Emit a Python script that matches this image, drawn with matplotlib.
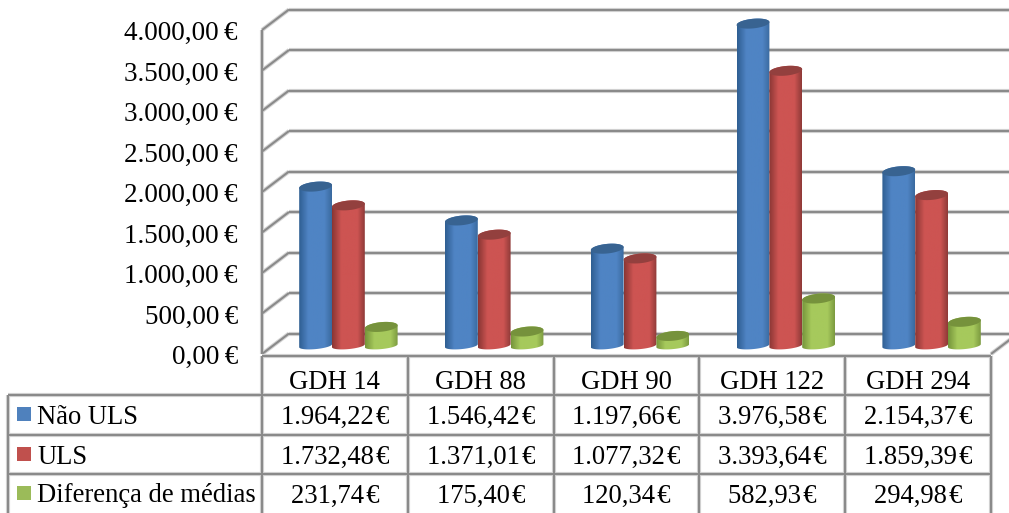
"""Average cost per GDH, Não ULS vs ULS, as a 3D-style cylinder chart with data table."""

import matplotlib
matplotlib.use("Agg")
import matplotlib.pyplot as plt  # noqa: E402
import numpy as np  # noqa: E402
from matplotlib.colors import LinearSegmentedColormap  # noqa: E402
from matplotlib.patches import PathPatch  # noqa: E402
from matplotlib.path import Path  # noqa: E402

plt.rcParams["font.family"] = ["Liberation Serif", "DejaVu Serif"]

categories = ["GDH 14", "GDH 88", "GDH 90", "GDH 122", "GDH 294"]
series_names = ["Não ULS", "ULS", "Diferença de médias"]
nao_uls = [1964.22, 1546.42, 1197.66, 3976.58, 2154.37]
uls = [1732.48, 1371.01, 1077.32, 3393.64, 1859.39]
diferenca = [231.74, 175.40, 120.34, 582.93, 294.98]
y_ticks = [0, 500, 1000, 1500, 2000, 2500, 3000, 3500, 4000]

W, H = 1009, 513
LEFT, RIGHT, FLOOR, TOP = 262, 991, 354, 30
PX_X = (RIGHT - LEFT) / len(categories)
PX_Y = (FLOOR - TOP) / 4000
# headroom above the top tick so the tallest cylinder keeps its cap
Y_MAX = 4300
# depth of the box, in data units
DEPTH_X = 27 / PX_X
DEPTH_Y = 20.5 / PX_Y
# cylinders stand a little in front of mid-depth
BAR_BASE = 8.3 / PX_Y

GRID = "#8a8a8a"
GRID_SOFT = "#d4d4d4"
FONT = 19.2

# edge, centre, edge, top cap, legend
STYLES = [
    ("#2f5e92", "#4f84c4", "#3a6a9f", "#386391", "#4f81bd"),
    ("#8a3634", "#cd5452", "#8f3a38", "#93403e", "#c0504d"),
    ("#76953b", "#a6c95c", "#7c9b40", "#76923c", "#9bbb59"),
]


def euro(v, gap="\u2009"):
    s = f"{v:,.2f}".replace(",", "X").replace(".", ",").replace("X", ".")
    return s + gap + "€"


def grid_line(ax, xs, ys):
    ax.plot(xs, ys, color=GRID_SOFT, lw=3.0, clip_on=False, zorder=1, solid_capstyle="butt")
    ax.plot(xs, ys, color=GRID, lw=1.5, clip_on=False, zorder=1.1, solid_capstyle="butt")


def cylinder(ax, cx, base, value, style, z):
    a = 0.1125          # half width
    b = 4.8 / PX_Y      # half height of the top cap
    b_low = 3.4 / PX_Y  # flatter curve along the bottom
    tilt = 1.5 / PX_Y   # caps rise a little to the right
    top = base + value
    t = np.linspace(0, np.pi, 40)
    low_x = cx + a * np.cos(t + np.pi)
    low_y = base + b_low * np.sin(t + np.pi) - tilt * np.cos(t)
    top_x = cx + a * np.cos(t)
    top_y = top + b * np.sin(t) + tilt * np.cos(t)
    body = np.column_stack([np.r_[low_x, top_x], np.r_[low_y, top_y]])
    body_patch = PathPatch(Path(np.vstack([body, body[0]]), closed=True),
                           fc="none", ec="none", zorder=z, transform=ax.transData)
    ax.add_patch(body_patch)
    cmap = LinearSegmentedColormap.from_list(
        "cyl", [(0, style[0]), (0.28, style[1]), (0.78, style[1]), (1, style[2])])
    img = ax.imshow(np.linspace(0, 1, 64)[None, :], cmap=cmap, aspect="auto", origin="lower",
                    extent=(cx - a, cx + a, base - 2 * b, top + 2 * b), zorder=z)
    img.set_clip_path(body_patch)
    # top cap
    t = np.linspace(0, 2 * np.pi, 80)
    cap = np.column_stack([cx + a * np.cos(t), top + b * np.sin(t) + tilt * np.cos(t)])
    ax.add_patch(PathPatch(Path(cap, closed=True), fc=style[3], ec="none", zorder=z + 0.1))


fig = plt.figure(figsize=(W / 100, H / 100), dpi=100, facecolor="white")
ax = fig.add_axes([LEFT / W, 1 - FLOOR / H, (RIGHT - LEFT) / W, Y_MAX * PX_Y / H])
ax.axis("off")

# back wall, side wall and floor
n = len(categories)
for v in y_ticks:
    grid_line(ax, [DEPTH_X, n + DEPTH_X], [v + DEPTH_Y, v + DEPTH_Y])
    grid_line(ax, [0, DEPTH_X], [v, v + DEPTH_Y])
grid_line(ax, [0, 0], [0, y_ticks[-1]])
grid_line(ax, [n, n + DEPTH_X], [0, DEPTH_Y])

for s, values in enumerate([nao_uls, uls, diferenca]):
    for i, v in enumerate(values):
        cx = i + 0.5 + (s - 1) * 0.225 + DEPTH_X / 2
        cylinder(ax, cx, BAR_BASE, v, STYLES[s], 3 + s + i * 0.01)

for v in y_ticks:
    ax.text(-24 / PX_X, v - 3.6 / PX_Y, euro(v), ha="right", va="center",
            fontsize=FONT + 0.3, clip_on=False)

ax.set_xlim(0, n)
ax.set_ylim(0, Y_MAX)

# data table underneath, laid out in pixels
tb = fig.add_axes([0, 0, 1, 1])
tb.set_xlim(0, W)
tb.set_ylim(H, 0)
tb.axis("off")
tb.patch.set_alpha(0)

col_x = [LEFT + PX_X * i for i in range(n + 1)]
row_y = [395, 435, 474]
row_mid = [417, 457, 496]


def table_line(xs, ys):
    tb.plot(xs, ys, color=GRID_SOFT, lw=3.0, solid_capstyle="butt", zorder=1)
    tb.plot(xs, ys, color=GRID, lw=1.5, solid_capstyle="butt", zorder=1.1)


table_line([LEFT, RIGHT], [356, 356])
for x in col_x:
    table_line([x, x], [356, H])
table_line([8, 8], [395, H])
for y in row_y:
    table_line([8, RIGHT], [y, y])

for i, name in enumerate(categories):
    tb.text(LEFT + PX_X * (i + 0.5), 382.5, name, ha="center", va="center", fontsize=FONT)

for s, (name, values) in enumerate(zip(series_names, [nao_uls, uls, diferenca])):
    y = row_mid[s]
    tb.add_patch(plt.Rectangle((17, y - 10), 14, 14, fc=STYLES[s][4], ec="none"))
    tb.text(37, y, name, ha="left", va="center", fontsize=FONT)
    for i, v in enumerate(values):
        tb.text(LEFT + PX_X * (i + 0.5), y, euro(v, "\u200a"), ha="center", va="center", fontsize=FONT)

fig.savefig("out.png", dpi=100)
plt.close(fig)
